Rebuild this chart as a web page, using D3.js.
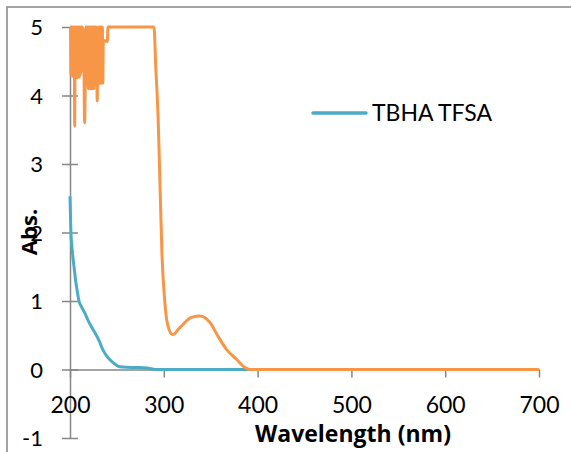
<!DOCTYPE html>
<html><head><meta charset="utf-8">
<script src="https://cdn.jsdelivr.net/npm/d3@7"></script>
<style>body{margin:0;background:#fff;} svg{display:block;font-family:Lato, "Open Sans", sans-serif;}</style>
</head><body>
<svg id="c" width="571" height="452"></svg>
<script>
// Data
const seriesNames = ["TBHA TFSA", "Sample 2"];
const blueWl  = [200, 200.5, 201, 202, 203, 204.3, 206, 208, 209.6, 212, 216, 219.5, 223, 226.5, 231, 235, 240, 246, 251, 256, 265, 275, 285, 293, 400, 700];
const blueAbs = [2.53, 2.25, 2.0, 1.8, 1.65, 1.5, 1.3, 1.12, 1.0, 0.92, 0.82, 0.71, 0.62, 0.54, 0.42, 0.29, 0.18, 0.1, 0.05, 0.035, 0.03, 0.03, 0.015, 0.0, 0.0, 0.0];
const orangeWl  = [200, 200.5, 201, 201.5, 202, 202.5, 203, 203.5, 204, 204.5, 205, 205.5, 206, 206.5, 207, 207.5, 208, 208.5, 209, 209.5, 210, 210.5, 211, 211.5, 212, 212.5,
  213, 214.5, 215.6, 217, 219, 219.5, 220, 220.5, 221, 221.5, 222, 222.5, 223, 223.5, 224, 224.5, 225, 225.5, 226, 227.7, 228.5, 229, 229.5, 230.3,
  231, 231.5, 232, 232.5, 233, 233.5, 234, 234.5, 235, 235.5, 236, 237, 238, 239, 239.8, 240.5, 241.6,
  289.5, 291.5, 294, 296, 298, 301, 304.5, 309.5, 317, 329.5, 338.5, 349, 358, 367, 377.5, 386.5, 392, 400, 700];
const orangeAbs = [5, 5, 4.3, 5, 4.3, 5, 4.28, 5, 4.3, 5, 3.55, 5, 4.26, 5, 4.3, 5, 4.26, 5, 4.3, 5, 4.27, 5, 4.3, 5, 4.35, 5,
  5, 4.9, 3.6, 5, 5, 4.1, 5, 4.12, 5, 4.1, 5, 4.1, 5, 4.1, 5, 4.12, 5, 4.1, 5, 5, 4.6, 3.92, 4.5, 5,
  4.18, 5, 4.18, 5, 4.18, 5, 4.2, 5, 4.18, 4.8, 4.79, 4.8, 4.79, 4.8, 4.79, 5, 5,
  5, 4.4, 3.65, 2.68, 1.7, 1.0, 0.63, 0.51, 0.61, 0.76, 0.78, 0.69, 0.48, 0.29, 0.15, 0.03, 0.0, 0.0, 0.0];
const xTicks = [200, 300, 400, 500, 600, 700];
const yTicks = [-1, 0, 1, 2, 3, 4, 5];
const xTitle = "Wavelength (nm)";
const yTitle = "Abs.";

const svg = d3.select("#c");
const x = d3.scaleLinear().domain([200, 700]).range([70, 539]);
const y = d3.scaleLinear().domain([-1, 5]).range([438, 27]);
const axisCol = "#868686";

// chart frame (partial)
svg.append("path").attr("d", "M7,452V7H571").attr("fill", "none").attr("stroke", axisCol).attr("stroke-width", 1.5);

// y axis
const ya = svg.append("g").attr("transform", `translate(${x(200)},0)`)
  .call(d3.axisLeft(y).tickValues(yTicks).tickSize(8).tickSizeOuter(0).tickPadding(0).tickFormat(d3.format("d")));
ya.select(".domain").attr("stroke", axisCol).attr("stroke-width", 1.5);
ya.selectAll(".tick line").attr("stroke", axisCol).attr("stroke-width", 1.5).attr("x2", 8).attr("x1", -8);
ya.selectAll(".tick text").attr("x", -27).attr("dy", "0.36em").attr("font-size", 22).attr("fill", "#000").attr("font-family", "Lato");
ya.selectAll(".tick text").text(d => d < 0 ? "-" + Math.abs(d) : d);

// x axis at y = 0
const xa = svg.append("g").attr("transform", `translate(0,${y(0)})`)
  .call(d3.axisBottom(x).tickValues(xTicks).tickSize(8).tickSizeOuter(0).tickPadding(0));
xa.select(".domain").attr("stroke", axisCol).attr("stroke-width", 1.5);
xa.selectAll(".tick line").attr("stroke", axisCol).attr("stroke-width", 1.5);
xa.selectAll(".tick text").attr("y", 43).attr("dy", 0).attr("font-size", 23).attr("fill", "#000").attr("font-family", "Lato");

// lines
const line = d3.line().x(d => x(d[0])).y(d => y(d[1])).curve(d3.curveMonotoneX);
svg.append("path").datum(blueWl.map((w, i) => [w, blueAbs[i]]))
  .attr("d", line).attr("fill", "none").attr("stroke", "#4BACC6").attr("stroke-width", 3).attr("stroke-linejoin", "round");
svg.append("path").datum(orangeWl.map((w, i) => [w, orangeAbs[i]]))
  .attr("d", line).attr("fill", "none").attr("stroke", "#F79646").attr("stroke-width", 3).attr("stroke-linejoin", "round");

// titles
svg.append("text").attr("x", 353).attr("y", 442).attr("text-anchor", "middle").attr("font-family", "Open Sans")
  .attr("font-weight", "bold").attr("font-size", 23).attr("fill", "#000").text(xTitle);
svg.append("text").attr("transform", "translate(37,232) rotate(-90)").attr("text-anchor", "middle").attr("font-family", "Open Sans")
  .attr("font-weight", "bold").attr("font-size", 22).attr("fill", "#000").text(yTitle);

// legend
const lg = svg.append("g");
lg.append("line").attr("x1", 313).attr("x2", 366).attr("y1", 113).attr("y2", 113)
  .attr("stroke", "#4BACC6").attr("stroke-width", 3.5).attr("stroke-linecap", "round");
lg.append("text").attr("x", 372).attr("y", 121).attr("font-size", 23).attr("fill", "#000").text(seriesNames[0]);
</script>
</body></html>
